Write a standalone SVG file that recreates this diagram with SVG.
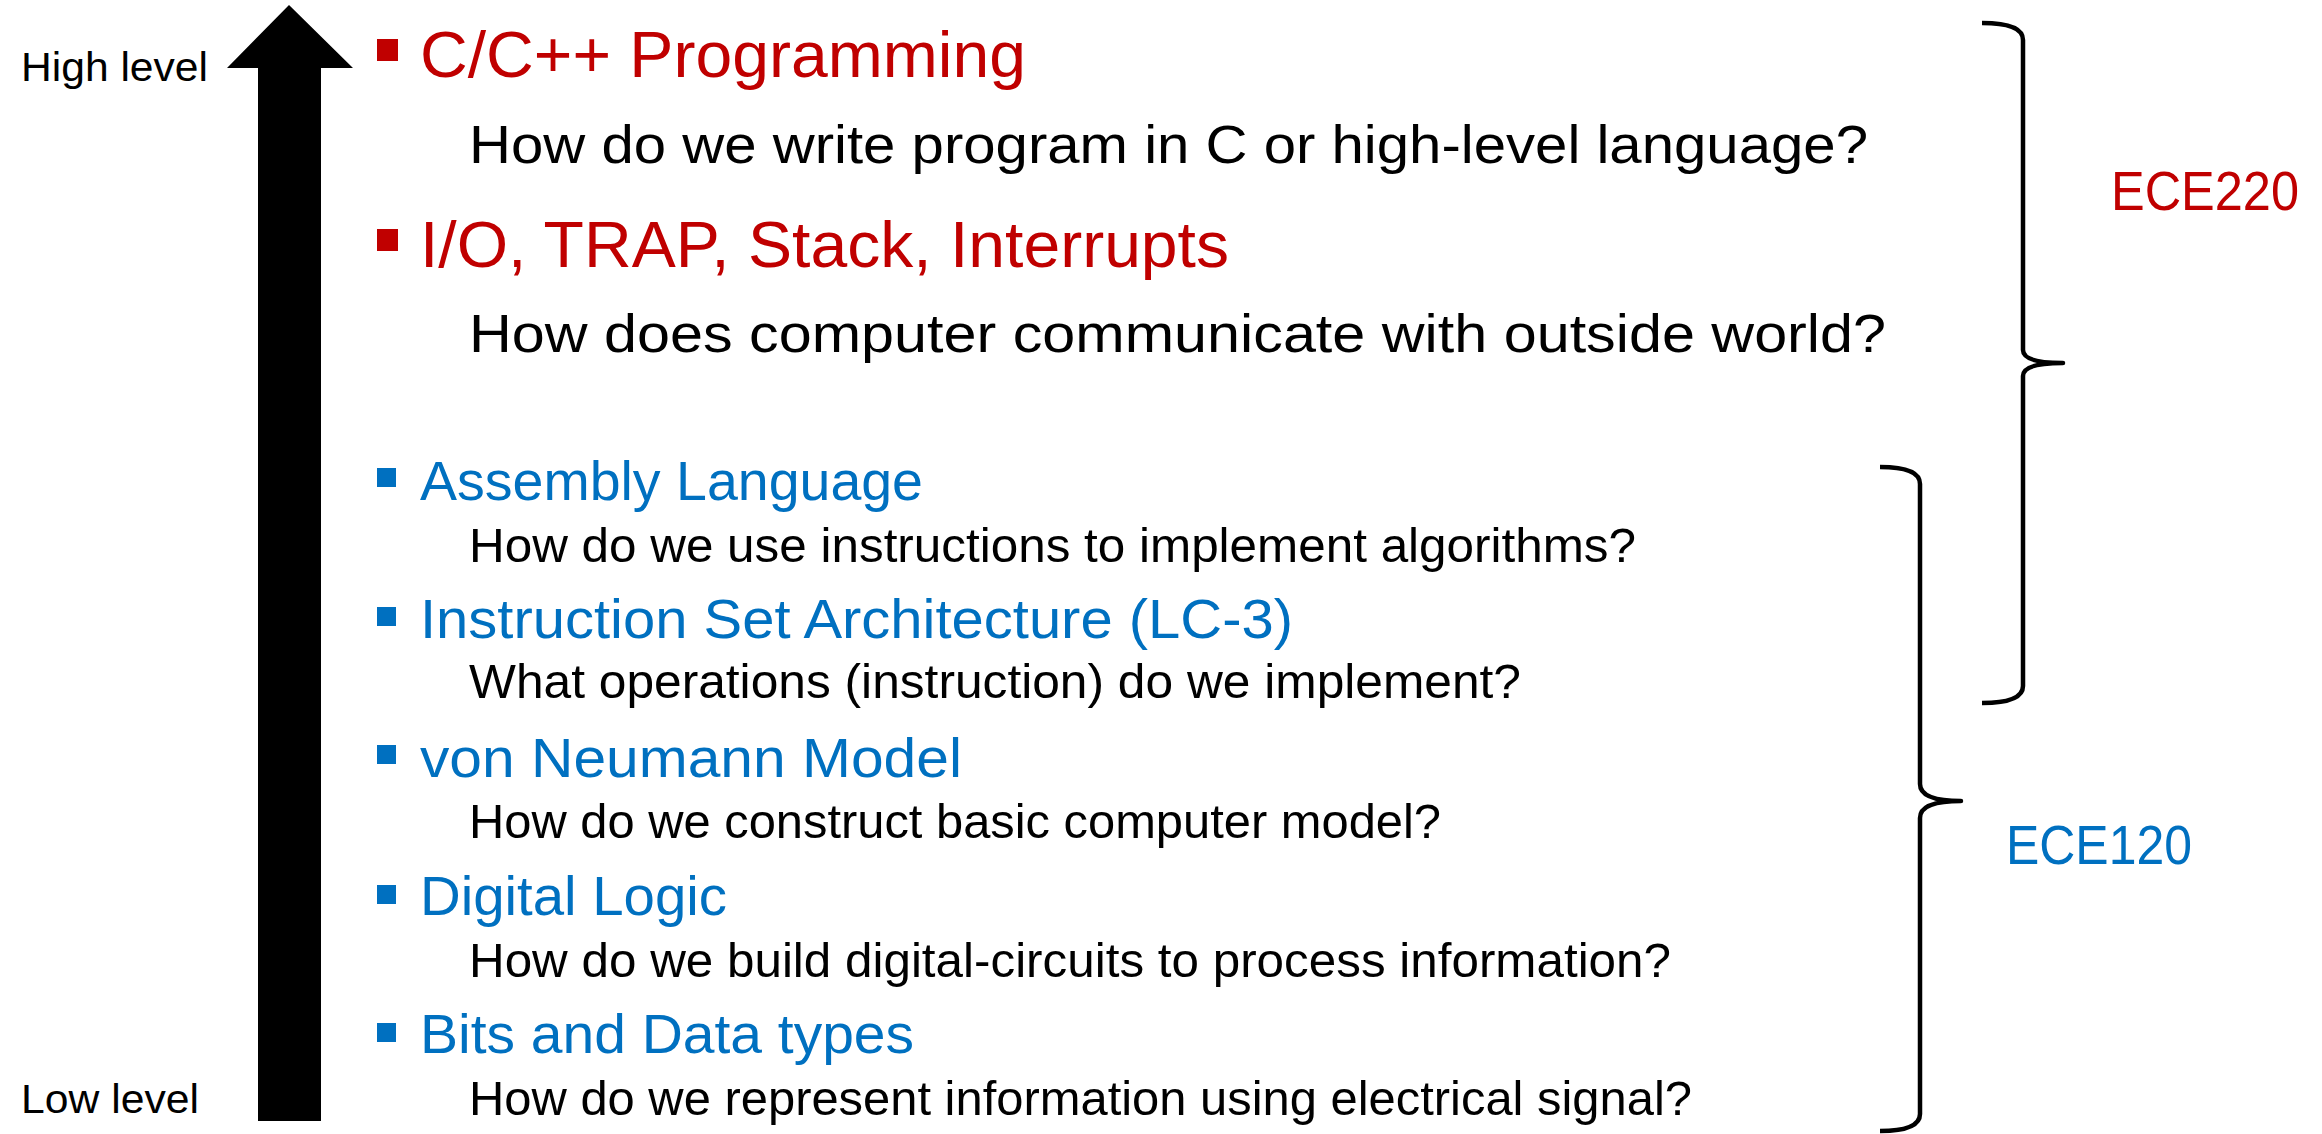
<svg xmlns="http://www.w3.org/2000/svg" width="2322" height="1134" viewBox="0 0 2322 1134">
<style>
text{font-family:"Liberation Sans","Noto Sans",Arial,sans-serif;}
.side{font-size:41px;fill:#000;}
.red{font-size:64px;fill:#C00000;}
.blue{font-size:56px;fill:#0070C0;}
.q1{font-size:54px;fill:#000;}
.q2{font-size:47.5px;fill:#000;}
.lbl{font-size:56px;}
.br{fill:#C00000;}
.bb{fill:#0070C0;}
.brace{fill:none;stroke:#000;stroke-width:4.5;stroke-linejoin:round;stroke-linecap:butt;}
</style>
<rect width="2322" height="1134" fill="#fff"/>
<g id="axis-labels">
<text class="side" x="21" y="81" textLength="187" lengthAdjust="spacingAndGlyphs">High level</text>
<text class="side" x="21" y="1113" textLength="178" lengthAdjust="spacingAndGlyphs">Low level</text>
</g>
<g id="connectors">
<polygon id="level-arrow" points="289,5 353,68 321,68 321,1121 258,1121 258,68 227,68" fill="#000"/>
<path id="brace-ece220" class="brace" d="M1982 23 Q2023 23 2023 40 L2023 350 Q2023 363 2063 363 Q2023 363 2023 376 L2023 686 Q2023 703 1982 703"/>
<path id="brace-ece120" class="brace" d="M1880 467 Q1920 467 1920 484 L1920 784 Q1920 801 1961 801 Q1920 801 1920 818 L1920 1114 Q1920 1131 1880 1131"/>
</g>
<g id="node-c-programming">
<rect class="br" x="377" y="39" width="21" height="22"/>
<text class="red" x="420" y="77" textLength="606" lengthAdjust="spacingAndGlyphs">C/C++ Programming</text>
<text class="q1" x="469" y="163" textLength="1399" lengthAdjust="spacingAndGlyphs">How do we write program in C or high-level language?</text>
</g>
<g id="node-io">
<rect class="br" x="377" y="229" width="21" height="22"/>
<text class="red" x="420" y="267" textLength="809" lengthAdjust="spacingAndGlyphs">I/O, TRAP, Stack, Interrupts</text>
<text class="q1" x="469" y="352" textLength="1417" lengthAdjust="spacingAndGlyphs">How does computer communicate with outside world?</text>
</g>
<g id="node-assembly">
<rect class="bb" x="377" y="468" width="19" height="19"/>
<text class="blue" x="420" y="500" textLength="503" lengthAdjust="spacingAndGlyphs">Assembly Language</text>
<text class="q2" x="469" y="562" textLength="1167" lengthAdjust="spacingAndGlyphs">How do we use instructions to implement algorithms?</text>
</g>
<g id="node-isa">
<rect class="bb" x="377" y="607" width="19" height="19"/>
<text class="blue" x="420" y="638" textLength="873" lengthAdjust="spacingAndGlyphs">Instruction Set Architecture (LC-3)</text>
<text class="q2" x="469" y="698" textLength="1052" lengthAdjust="spacingAndGlyphs">What operations (instruction) do we implement?</text>
</g>
<g id="node-von-neumann">
<rect class="bb" x="377" y="745" width="19" height="19"/>
<text class="blue" x="420" y="777" textLength="542" lengthAdjust="spacingAndGlyphs">von Neumann Model</text>
<text class="q2" x="469" y="838" textLength="972" lengthAdjust="spacingAndGlyphs">How do we construct basic computer model?</text>
</g>
<g id="node-digital-logic">
<rect class="bb" x="377" y="885" width="19" height="19"/>
<text class="blue" x="420" y="915" textLength="307" lengthAdjust="spacingAndGlyphs">Digital Logic</text>
<text class="q2" x="469" y="977" textLength="1202" lengthAdjust="spacingAndGlyphs">How do we build digital-circuits to process information?</text>
</g>
<g id="node-bits">
<rect class="bb" x="377" y="1023" width="19" height="19"/>
<text class="blue" x="420" y="1053" textLength="494" lengthAdjust="spacingAndGlyphs">Bits and Data types</text>
<text class="q2" x="469" y="1115" textLength="1223" lengthAdjust="spacingAndGlyphs">How do we represent information using electrical signal?</text>
</g>
<g id="label-ece220">
<text class="lbl" x="2111" y="210" fill="#C00000" textLength="188" lengthAdjust="spacingAndGlyphs">ECE220</text>
</g>
<g id="label-ece120">
<text class="lbl" x="2006" y="864" fill="#0070C0" textLength="186" lengthAdjust="spacingAndGlyphs">ECE120</text>
</g>
</svg>
